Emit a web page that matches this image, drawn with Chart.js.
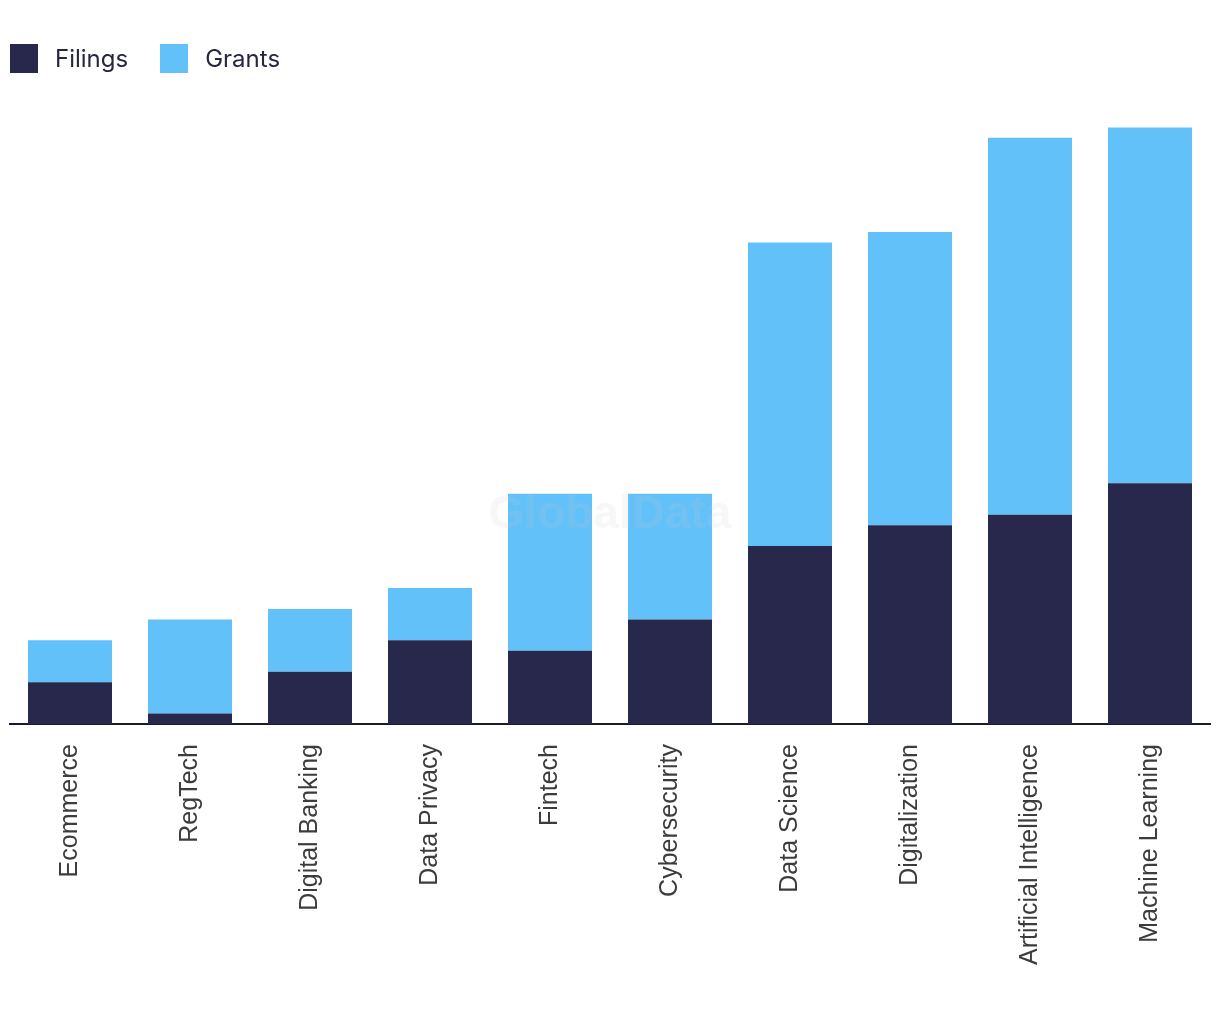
<!DOCTYPE html>
<html>
<head>
<meta charset="utf-8">
<script src="https://cdn.jsdelivr.net/npm/chart.js@4"></script>
<style>
  html, body { margin: 0; padding: 0; background: #fff; }
  #wrap { position: relative; width: 1220px; height: 1030px; }
  .legend { position: absolute; left: 10px; top: 44px; display: flex; align-items: center;
            font-family: Inter, "Noto Sans", sans-serif; font-size: 24px; color: #262640; }
  .legend span.box { display: inline-block; width: 28px; height: 29px; margin-right: 17px; }
  .legend .item { display: flex; align-items: center; margin-right: 32px; }
</style>
</head>
<body>
<div id="wrap">
  <div class="legend" id="legend"></div>
  <canvas id="chart"></canvas>
</div>
<script>
const categories = ['Ecommerce', 'RegTech', 'Digital Banking', 'Data Privacy', 'Fintech',
    'Cybersecurity', 'Data Science', 'Digitalization', 'Artificial Intelligence', 'Machine Learning'];
const filings = [4, 1, 5, 8, 7, 10, 17, 19, 20, 23];
const grants = [4, 9, 6, 5, 15, 12, 29, 28, 36, 34];
const seriesNames = ['Filings', 'Grants'];
const seriesColors = ['#27284b', '#62c1f9'];

// faint GlobalData watermark over the bars
const watermark = {
    id: 'watermark',
    afterDatasetsDraw(chart) {
        const { ctx, chartArea } = chart;
        ctx.save();
        ctx.font = 'bold 46px "Liberation Sans", Arial, sans-serif';
        ctx.fillStyle = 'rgba(200,200,200,0.15)';
        ctx.textAlign = 'center';
        ctx.textBaseline = 'middle';
        ctx.fillText('GlobalData', (chartArea.left + chartArea.right) / 2, 515);
        ctx.restore();
    }
};

const chart = new Chart(document.getElementById('chart').getContext('2d'), {
    type: 'bar',
    data: {
        labels: categories,
        datasets: [
            { label: seriesNames[0], data: filings, backgroundColor: seriesColors[0],
              barPercentage: 0.7, categoryPercentage: 1 },
            { label: seriesNames[1], data: grants, backgroundColor: seriesColors[1],
              barPercentage: 0.7, categoryPercentage: 1 }
        ]
    },
    options: {
        responsive: true,
        maintainAspectRatio: false,
        animation: false,
        layout: { padding: { left: 10, right: 10, top: 96, bottom: 45 } },
        plugins: {
            legend: { display: false },
            tooltip: { enabled: false }
        },
        scales: {
            x: {
                stacked: true,
                grid: { display: false, drawTicks: false },
                border: { color: '#1a1a2e', width: 2 },
                ticks: {
                    maxRotation: 90,
                    minRotation: 90,
                    padding: 20,
                    color: '#3c3c3c',
                    font: { family: '"Liberation Sans", Arial, sans-serif', size: 25 }
                }
            },
            y: {
                stacked: true,
                display: false,
                min: 0,
                max: 60
            }
        }
    },
    plugins: [watermark]
});

// html legend built from the datasets
const legendEl = document.getElementById('legend');
chart.data.datasets.forEach(ds => {
    const item = document.createElement('div');
    item.className = 'item';
    item.innerHTML = '<span class="box" style="background:' + ds.backgroundColor + '"></span>' + ds.label;
    legendEl.appendChild(item);
});
</script>
</body>
</html>
